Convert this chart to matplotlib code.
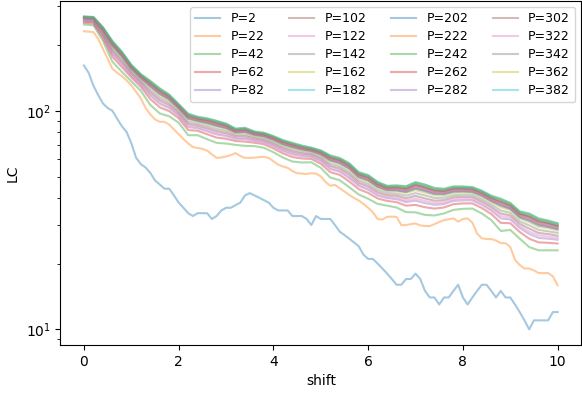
import numpy as np
import matplotlib
matplotlib.use("Agg")
import matplotlib.pyplot as plt

# shift grids: P=2 / P=22 read every 0.1, the dense bundle every 0.2
SHIFT_FINE = np.round(np.arange(101) * 0.1, 1)
SHIFT_COARSE = np.round(np.arange(51) * 0.2, 1)

P_VALUES = [2, 22, 42, 62, 82, 102, 122, 142, 162, 182,
            202, 222, 242, 262, 282, 302, 322, 342, 362, 382]

LC_P2 = [161, 149, 130, 118, 108, 103, 100, 92, 85, 80,
         71, 61, 57, 55, 52, 48, 46, 44, 44, 41,
         38, 36, 34, 33, 34, 34, 34, 32, 33, 35,
         36, 36, 37, 38, 41, 42, 41, 40, 39, 38,
         36, 35, 35, 35, 33, 33, 33, 32, 30, 33,
         32, 32, 32, 30, 28, 27, 26, 25, 24, 22,
         21, 21, 20, 19, 18, 17, 16, 16, 17, 17,
         18, 17, 15, 14, 14, 13, 14, 14, 15, 16,
         14, 13, 14, 15, 16, 16, 15, 14, 15, 14,
         14, 13, 12, 11, 10, 11, 11, 11, 11, 12, 12]

LC_P22 = [231, 230, 229, 213, 192, 173, 155.5, 149.2, 144.1, 137.5,
          130.6, 122.1, 113.8, 103.2, 96.1, 91.3, 89.0, 89.0, 86.4, 82.1,
          78.1, 74.2, 70.9, 68.2, 67.6, 66.9, 65.7, 63.2, 60.9, 61.1,
          61.8, 62.7, 64.0, 62.1, 60.9, 60.9, 61.0, 61.4, 61.5, 60.9,
          58.7, 56.7, 55.6, 54.8, 53.0, 51.8, 51.6, 51.4, 51.8, 51.6,
          50.1, 47.2, 45.4, 45.8, 44.2, 42.7, 41.2, 39.9, 38.9, 37.5,
          36.0, 34.3, 32.0, 31.8, 32.7, 32.8, 32.7, 30.0, 30.0, 30.3,
          30.5, 29.9, 29.7, 29.7, 30.3, 31.0, 31.6, 31.9, 32.2, 31.1,
          32.0, 32.2, 30.8, 27.4, 26.1, 25.9, 25.9, 25.5, 24.8, 24.8,
          23.8, 20.8, 19.7, 19.0, 19.0, 18.6, 18.1, 18.1, 18.1, 17.5, 15.9]

LC_P42 = [248, 245.9, 208.6, 167.6, 150.7, 136.3, 123.3, 106.4, 97.2, 94.3,
          88.2, 77.3, 77.3, 74.1, 71.3, 70.8, 69.8, 69.1, 68.9, 67.7,
          64.6, 61.1, 58.6, 58.0, 58.1, 54.8, 49.5, 48.1, 44.7, 41.4,
          39.6, 37.5, 36.8, 36.1, 34.4, 34.3, 33.4, 33.2, 33.9, 35.2,
          35.6, 35.7, 33.9, 31.6, 28.2, 28.5, 26.0, 23.8, 23.0, 23.0, 23.0]

LC_P62 = [252.8, 250.9, 215.7, 176.6, 158.5, 142.0, 128.6, 113.1, 103.7, 99.6,
          92.4, 81.6, 81.0, 78.1, 75.4, 74.5, 72.7, 72.3, 71.4, 70.3,
          67.2, 63.8, 61.4, 60.5, 60.2, 57.2, 52.4, 50.9, 47.5, 43.8,
          42.1, 39.7, 38.7, 38.2, 36.8, 37.1, 36.2, 35.7, 36.1, 37.4,
          37.7, 37.7, 35.9, 33.7, 30.7, 30.6, 27.9, 26.0, 25.0, 24.9, 24.7]

LC_P82 = [255.7, 253.8, 219.9, 182.0, 163.2, 145.4, 131.7, 117.1, 107.5, 102.8,
          94.9, 84.2, 83.1, 80.5, 77.9, 76.6, 74.4, 74.2, 72.9, 71.8,
          68.8, 65.4, 63.1, 62.0, 61.5, 58.7, 54.1, 52.6, 49.2, 45.3,
          43.5, 40.9, 39.8, 39.4, 38.2, 38.8, 37.8, 37.1, 37.4, 38.7,
          38.9, 38.9, 37.1, 34.9, 32.2, 31.8, 29.1, 27.3, 26.2, 26.0, 25.7]

LC_P102 = [259.0, 257.2, 224.8, 188.1, 168.5, 149.3, 135.3, 121.7, 112.0, 106.5,
           97.7, 87.2, 85.6, 83.3, 80.7, 79.1, 76.4, 76.4, 74.7, 73.5,
           70.6, 67.3, 65.0, 63.7, 63.0, 60.4, 56.0, 54.5, 51.2, 46.9,
           45.2, 42.4, 41.1, 40.9, 39.8, 40.8, 39.7, 38.8, 39.0, 40.2,
           40.4, 40.3, 38.5, 36.3, 33.9, 33.2, 30.4, 28.9, 27.6, 27.3, 26.8]

LC_P122 = [257.2, 255.4, 222.2, 184.8, 165.7, 147.2, 133.3, 119.3, 109.6, 104.5,
           96.2, 85.6, 84.3, 81.8, 79.2, 77.8, 75.3, 75.2, 73.7, 72.6,
           69.6, 66.3, 63.9, 62.8, 62.2, 59.5, 55.0, 53.4, 50.1, 46.0,
           44.3, 41.6, 40.4, 40.1, 38.9, 39.7, 38.7, 37.9, 38.1, 39.4,
           39.6, 39.5, 37.8, 35.5, 33.0, 32.5, 29.7, 28.0, 26.9, 26.6, 26.2]

LC_P142 = [261.2, 259.5, 228.0, 192.2, 172.1, 151.9, 137.6, 124.8, 114.9, 108.9,
           99.6, 89.1, 87.3, 85.1, 82.5, 80.8, 77.7, 77.8, 75.8, 74.7,
           71.8, 68.5, 66.2, 64.8, 63.9, 61.5, 57.3, 55.7, 52.4, 48.0,
           46.3, 43.4, 42.0, 41.8, 40.9, 42.0, 41.0, 39.9, 40.0, 41.1,
           41.3, 41.2, 39.4, 37.2, 35.0, 34.1, 31.2, 29.9, 28.5, 28.1, 27.6]

LC_P162 = [263.4, 261.7, 231.3, 196.3, 175.6, 154.5, 140.0, 127.8, 117.9, 111.3,
           101.5, 91.1, 88.9, 86.9, 84.4, 82.4, 79.0, 79.3, 77.0, 75.8,
           73.0, 69.7, 67.5, 65.9, 64.9, 62.6, 58.6, 57.0, 53.7, 49.1,
           47.4, 44.4, 42.8, 42.8, 42.0, 43.3, 42.2, 41.0, 41.0, 42.1,
           42.3, 42.1, 40.3, 38.1, 36.2, 35.1, 32.1, 30.9, 29.4, 29.0, 28.3]

LC_P182 = [266.7, 265.1, 236.1, 202.5, 181.0, 158.4, 143.6, 132.4, 122.3, 115.0,
           104.4, 94.1, 91.4, 89.7, 87.2, 84.9, 80.9, 81.4, 78.7, 77.6,
           74.8, 71.6, 69.4, 67.6, 66.4, 64.2, 60.6, 58.9, 55.7, 50.8,
           49.1, 45.8, 44.1, 44.2, 43.6, 45.3, 44.1, 42.7, 42.5, 43.6,
           43.7, 43.4, 41.7, 39.5, 37.9, 36.5, 33.4, 32.4, 30.8, 30.2, 29.5]

LC_P202 = [264.5, 262.9, 232.9, 198.4, 177.4, 155.8, 141.2, 129.4, 119.3, 112.5,
           102.5, 92.1, 89.8, 87.8, 85.3, 83.3, 79.6, 80.0, 77.5, 76.4,
           73.6, 70.3, 68.1, 66.5, 65.4, 63.1, 59.3, 57.6, 54.4, 49.7,
           48.0, 44.9, 43.3, 43.2, 42.5, 44.0, 42.9, 41.6, 41.5, 42.6,
           42.7, 42.5, 40.8, 38.6, 36.8, 35.6, 32.5, 31.4, 29.9, 29.4, 28.7]

LC_P222 = [265.6, 264.0, 234.5, 200.4, 179.2, 157.1, 142.4, 130.9, 120.8, 113.7,
           103.4, 93.1, 90.6, 88.7, 86.3, 84.1, 80.3, 80.7, 78.1, 77.0,
           74.2, 70.9, 68.8, 67.0, 65.9, 63.7, 59.9, 58.3, 55.0, 50.2,
           48.6, 45.3, 43.7, 43.7, 43.0, 44.6, 43.5, 42.2, 42.0, 43.1,
           43.2, 43.0, 41.3, 39.0, 37.3, 36.0, 33.0, 31.9, 30.4, 29.8, 29.1]

LC_P242 = [270, 268.5, 241, 208.6, 186.3, 162.3, 147.2, 137.0, 126.7, 118.6,
           107.2, 97.0, 93.9, 92.4, 90.0, 87.4, 82.9, 83.6, 80.4, 79.3,
           76.6, 73.4, 71.3, 69.3, 67.8, 65.9, 62.5, 60.8, 57.6, 52.4,
           50.8, 47.3, 45.4, 45.6, 45.2, 47.2, 46.0, 44.4, 44.0, 45.1,
           45.1, 44.8, 43.1, 40.9, 39.6, 37.9, 34.7, 33.9, 32.2, 31.5, 30.6]

LC_P262 = [267.4, 265.8, 237.1, 203.7, 182.0, 159.2, 144.3, 133.3, 123.2, 115.7,
           104.9, 94.6, 91.9, 90.2, 87.8, 85.4, 81.3, 81.9, 79.0, 77.9,
           75.2, 71.9, 69.8, 67.9, 66.6, 64.6, 60.9, 59.3, 56.1, 51.1,
           49.5, 46.1, 44.4, 44.5, 43.9, 45.7, 44.5, 43.1, 42.8, 43.9,
           44.0, 43.7, 42.0, 39.8, 38.2, 36.8, 33.7, 32.7, 31.1, 30.5, 29.7]

LC_P282 = [265.2, 263.5, 233.9, 199.6, 178.5, 156.6, 141.9, 130.3, 120.2, 113.3,
           103.0, 92.7, 90.3, 88.4, 85.9, 83.8, 80.0, 80.4, 77.9, 76.8,
           74.0, 70.7, 68.5, 66.8, 65.7, 63.5, 59.6, 58.0, 54.8, 50.0,
           48.3, 45.1, 43.5, 43.5, 42.8, 44.4, 43.2, 41.9, 41.8, 42.9,
           43.0, 42.8, 41.1, 38.9, 37.1, 35.8, 32.8, 31.7, 30.2, 29.6, 28.9]

LC_P302 = [268.2, 266.7, 238.4, 205.3, 183.5, 160.2, 145.3, 134.6, 124.3, 116.7,
           105.7, 95.4, 92.6, 90.9, 88.5, 86.1, 81.9, 82.4, 79.5, 78.4,
           75.6, 72.4, 70.3, 68.4, 67.0, 65.0, 61.5, 59.8, 56.6, 51.5,
           49.9, 46.5, 44.7, 44.8, 44.3, 46.2, 45.0, 43.5, 43.2, 44.3,
           44.3, 44.1, 42.4, 40.2, 38.7, 37.2, 34.0, 33.1, 31.5, 30.8, 30.0]

LC_P322 = [266.3, 264.7, 235.5, 201.6, 180.3, 157.9, 143.1, 131.8, 121.7, 114.5,
           104.0, 93.7, 91.1, 89.3, 86.8, 84.6, 80.7, 81.1, 78.5, 77.3,
           74.6, 71.3, 69.1, 67.4, 66.2, 64.0, 60.3, 58.6, 55.4, 50.5,
           48.9, 45.6, 43.9, 44.0, 43.4, 45.0, 43.9, 42.5, 42.3, 43.4,
           43.5, 43.3, 41.5, 39.3, 37.7, 36.3, 33.2, 32.2, 30.6, 30.1, 29.3]

LC_P342 = [267.8, 266.2, 237.8, 204.5, 182.7, 159.7, 144.8, 133.9, 123.8, 116.2,
           105.3, 95.0, 92.2, 90.6, 88.1, 85.7, 81.6, 82.2, 79.3, 78.1,
           75.4, 72.2, 70.0, 68.2, 66.8, 64.8, 61.2, 59.5, 56.3, 51.3,
           49.7, 46.3, 44.5, 44.7, 44.1, 45.9, 44.7, 43.3, 43.0, 44.1,
           44.2, 43.9, 42.2, 40.0, 38.5, 37.0, 33.8, 32.9, 31.3, 30.7, 29.8]

LC_P362 = [268.9, 267.4, 239.4, 206.6, 184.5, 161.0, 146.0, 135.5, 125.2, 117.4,
           106.3, 96.0, 93.1, 91.5, 89.1, 86.6, 82.3, 82.9, 79.8, 78.7,
           76.0, 72.8, 70.7, 68.7, 67.3, 65.4, 61.9, 60.2, 57.0, 51.9,
           50.2, 46.8, 45.0, 45.1, 44.7, 46.6, 45.4, 43.8, 43.5, 44.6,
           44.6, 44.4, 42.6, 40.4, 39.0, 37.4, 34.3, 33.4, 31.7, 31.1, 30.2]

LC_P382 = [269.6, 268.1, 240.4, 207.8, 185.6, 161.8, 146.7, 136.4, 126.1, 118.1,
           106.8, 96.6, 93.6, 92.0, 89.6, 87.1, 82.6, 83.3, 80.2, 79.1,
           76.4, 73.2, 71.1, 69.1, 67.6, 65.7, 62.2, 60.6, 57.3, 52.2,
           50.6, 47.1, 45.2, 45.4, 45.0, 46.9, 45.8, 44.2, 43.8, 44.9,
           44.9, 44.6, 42.9, 40.7, 39.4, 37.7, 34.5, 33.7, 32.0, 31.3, 30.5]

LC_SERIES = [LC_P2, LC_P22, LC_P42, LC_P62, LC_P82, LC_P102, LC_P122,
             LC_P142, LC_P162, LC_P182, LC_P202, LC_P222, LC_P242, LC_P262,
             LC_P282, LC_P302, LC_P322, LC_P342, LC_P362, LC_P382]

# ==========================================
# plot
# ==========================================
fig, ax = plt.subplots(figsize=(5.82, 3.93), dpi=100)
fig.subplots_adjust(left=0.1036, right=0.9988, top=0.998, bottom=0.122)

for p, lc in zip(P_VALUES, LC_SERIES):
    shift = SHIFT_FINE if len(lc) == len(SHIFT_FINE) else SHIFT_COARSE
    ax.plot(shift, lc, alpha=0.4, linewidth=1.5, label=f"P={p}")

ax.set_yscale("log")
ax.set_xlabel("shift")
ax.set_ylabel("LC")
ax.legend(ncol=4, fontsize=9, loc="upper right", labelspacing=0.4)

fig.savefig("out.png", dpi=100)
